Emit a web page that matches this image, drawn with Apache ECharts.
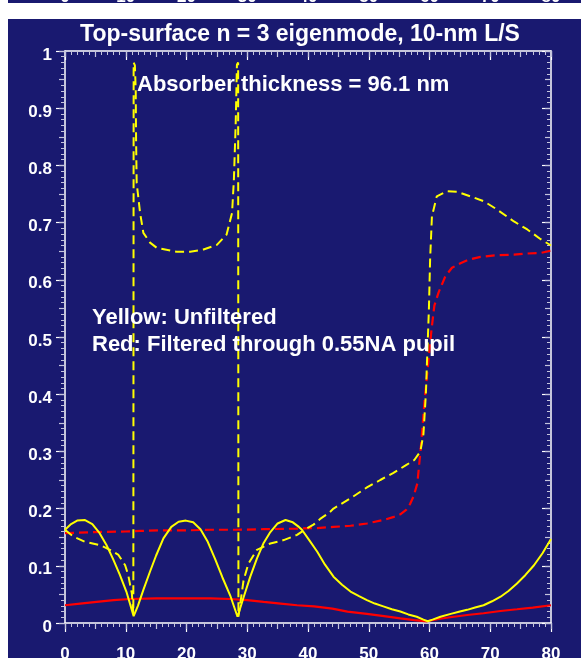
<!DOCTYPE html>
<html>
<head>
<meta charset="utf-8">
<script src="https://cdn.jsdelivr.net/npm/echarts@6/dist/echarts.min.js"></script>
<style>
  html, body { margin: 0; padding: 0; background: #ffffff; }
  #wrap { position: relative; width: 581px; height: 658px; overflow: hidden; }
  .panel { position: absolute; background: #191970; }
  #panelTop { left: 8px; top: 0; width: 573px; height: 3px; }
  #panelMain { left: 8px; top: 19px; width: 573px; height: 639px; }
  #chart { position: absolute; left: 0; top: 0; width: 581px; height: 658px; }
</style>
</head>
<body>
<div id="wrap">
  <div class="panel" id="panelTop"></div>
  <div class="panel" id="panelMain"></div>
  <div id="chart"></div>
</div>
<script>
// Axis ticks and labels
const xTicks = [0, 10, 20, 30, 40, 50, 60, 70, 80];
const yTickLabels = ['0', '0.1', '0.2', '0.3', '0.4', '0.5', '0.6', '0.7', '0.8', '0.9', '1'];

// Text
const titleText = 'Top-surface n = 3 eigenmode, 10-nm L/S';
const noteAbsorber = 'Absorber thickness = 96.1 nm';
const noteYellow = 'Yellow: Unfiltered';
const noteRed = 'Red: Filtered through 0.55NA pupil';

// Unfiltered, solid yellow
const unfilteredSolid = [
  [0, 0.163], [1, 0.173], [2, 0.179], [3.3, 0.180], [4.5, 0.173], [5.7, 0.157],
  [6.8, 0.137], [7.9, 0.112], [9.0, 0.085], [10.1, 0.055], [11.3, 0.012],
  [12.0, 0.030], [12.9, 0.058], [14.0, 0.090], [15.0, 0.118], [16.2, 0.148],
  [17.5, 0.168], [18.7, 0.177], [19.9, 0.179], [21.1, 0.176], [22.3, 0.164],
  [23.5, 0.142], [24.7, 0.112], [25.9, 0.080], [27.2, 0.048], [28.4, 0.011],
  [29.4, 0.045], [30.5, 0.081], [31.6, 0.113], [32.7, 0.140], [33.8, 0.159],
  [35.0, 0.174], [36.3, 0.180], [37.5, 0.176], [38.5, 0.168], [39.0, 0.163],
  [40.2, 0.145], [41.5, 0.125], [42.8, 0.102], [44.2, 0.081], [45.6, 0.067],
  [47.0, 0.055], [48.4, 0.047], [49.7, 0.040], [51.0, 0.034], [52.4, 0.029],
  [53.8, 0.024], [55.2, 0.020], [56.5, 0.015], [57.9, 0.011], [59.0, 0.006],
  [59.7, 0.003], [60.5, 0.006], [61.8, 0.011], [63.5, 0.016], [65.0, 0.020],
  [66.2, 0.023], [67.5, 0.027], [68.9, 0.031], [70.3, 0.038], [71.7, 0.046],
  [73.0, 0.056], [74.4, 0.069], [75.8, 0.084], [77.2, 0.101], [78.6, 0.122],
  [80, 0.147]
];

// Unfiltered, dashed yellow
const unfilteredDashed = [
  [0, 0.163], [1.4, 0.151], [3.3, 0.142], [5.8, 0.136], [7.4, 0.128],
  [8.8, 0.119], [9.9, 0.101], [10.4, 0.084], [11.0, 0.052], [11.25, 0.017],
  [11.3, 0.98], [11.5, 0.975], [11.64, 0.933], [11.7, 0.845], [11.8, 0.769],
  [12.36, 0.717], [12.9, 0.682], [14.0, 0.665], [15.1, 0.656], [18.4, 0.649],
  [20.6, 0.649], [22.8, 0.653], [25.0, 0.661], [26.6, 0.679], [27.5, 0.717],
  [27.8, 0.775], [28.1, 0.874], [28.3, 0.976], [28.5, 0.98], [28.55, 0.011],
  [29.4, 0.075], [30.2, 0.104], [31.6, 0.128], [33.8, 0.139], [36.0, 0.145],
  [38.2, 0.154], [39.3, 0.162], [40.9, 0.172], [42.0, 0.182], [43.4, 0.192],
  [44.2, 0.200], [47.0, 0.218], [49.7, 0.237], [51.9, 0.250], [54.0, 0.262],
  [56.0, 0.275], [57.5, 0.285], [58.5, 0.300], [59.0, 0.330], [59.4, 0.400],
  [59.6, 0.460], [59.9, 0.548], [60.1, 0.635], [60.4, 0.711], [61.2, 0.746],
  [62.9, 0.755], [64.5, 0.754], [66.7, 0.746], [69.0, 0.737], [71.1, 0.723],
  [73.9, 0.702], [76.1, 0.688], [78.3, 0.671], [80, 0.660]
];

// Filtered, solid red
const filteredSolid = [
  [0, 0.031], [2.5, 0.034], [5.2, 0.037], [8.0, 0.040], [10.7, 0.042],
  [15, 0.043], [20, 0.043], [24, 0.043], [27.2, 0.042], [30, 0.040],
  [32.7, 0.037], [35.5, 0.034], [38.2, 0.031], [41.0, 0.029], [44.0, 0.025],
  [46.5, 0.020], [49.7, 0.016], [52.5, 0.012], [55.2, 0.008], [57.5, 0.005],
  [59.6, 0.003], [61.5, 0.007], [63.4, 0.010], [66.2, 0.014], [68.9, 0.017],
  [71.7, 0.021], [74.4, 0.024], [77.0, 0.027], [80, 0.031]
];

// Filtered, dashed red
const filteredDashed = [
  [0, 0.157], [5, 0.159], [10, 0.160], [12.4, 0.161], [16, 0.162], [20, 0.162],
  [24, 0.163], [28, 0.163], [32.7, 0.164], [38, 0.165], [41.5, 0.166],
  [44.2, 0.168], [47.0, 0.170], [49.7, 0.174], [52.4, 0.180], [54.0, 0.185],
  [55.2, 0.190], [56.2, 0.198], [56.8, 0.208], [57.4, 0.222], [58.0, 0.244],
  [58.6, 0.310], [59.2, 0.390], [59.8, 0.455], [60.3, 0.510], [60.8, 0.555],
  [61.5, 0.578], [62.6, 0.606], [63.7, 0.621], [65.1, 0.629], [66.4, 0.635],
  [68.4, 0.640], [71.1, 0.643], [73.9, 0.644], [76.1, 0.646], [78.3, 0.647],
  [80, 0.651]
];

const FONT = '"Liberation Sans", Arial, sans-serif';
const TICK_MINOR = '#c4c4dc';
const HIDDEN = 'rgba(0,0,0,0)';

const chart = echarts.init(document.getElementById('chart'), null, { renderer: 'canvas' });

// One side of the frame: a value axis with its own tick length and direction
function frameAxis(kind, position, opts) {
  const isX = kind === 'x';
  const label = {
    show: true, color: opts.labels ? '#ffffff' : HIDDEN,
    fontWeight: 'bold', fontSize: 17, fontFamily: FONT,
    margin: opts.margin != null ? opts.margin : (isX ? 23 : 13),
    formatter: isX ? (v => String(xTicks[Math.round(v / 10)]))
                   : (v => yTickLabels[Math.round(v * 10)] || '')
  };
  if (!isX) {
    // value labels sit a little below their ticks
    label.verticalAlign = 'top';
    label.lineHeight = 8;
  }
  return {
    type: 'value', position: position,
    min: 0, max: isX ? 80 : 1, interval: opts.interval,
    offset: opts.offset || 0,
    axisLine: { show: !!opts.line, onZero: false, lineStyle: { color: '#ffffff', width: 1.5 } },
    axisTick: { show: opts.tickLen > 0, inside: !!opts.inside, length: opts.tickLen,
      lineStyle: { color: opts.tickColor || '#ffffff', width: 1.2 } },
    minorTick: { show: !!opts.minor, splitNumber: 10, length: 4,
      lineStyle: { color: TICK_MINOR, width: 1 } },
    axisLabel: label,
    splitLine: { show: false }
  };
}

function note(id, text, x, y, size, align) {
  return {
    type: 'text', id: id, z: 100, silent: true,
    style: { text: text, x: x, y: y, fill: '#ffffff', font: 'bold ' + size + 'px ' + FONT,
      textAlign: align, align: align, textVerticalAlign: 'middle', verticalAlign: 'middle' }
  };
}

const option = {
  backgroundColor: 'transparent',
  animation: false,
  grid: { left: 65, right: 30, top: 51, bottom: 35, outerBoundsMode: 'none', containLabel: false },
  xAxis: [
    frameAxis('x', 'bottom', { interval: 10, line: true, tickLen: 9, minor: true, labels: true }),
    frameAxis('x', 'bottom', { interval: 5, tickLen: 6, tickColor: TICK_MINOR }),
    frameAxis('x', 'top', { interval: 10, line: true, inside: true, tickLen: 9, minor: true }),
    frameAxis('x', 'top', { interval: 5, inside: true, tickLen: 6, tickColor: TICK_MINOR }),
    // tick labels of the panel above, cut by the page edge
    frameAxis('x', 'top', { interval: 10, tickLen: 0, labels: true, offset: 40, margin: 5 })
  ],
  yAxis: [
    frameAxis('y', 'left', { interval: 0.1, line: true, tickLen: 9, minor: true, labels: true }),
    frameAxis('y', 'left', { interval: 0.05, tickLen: 6, tickColor: TICK_MINOR }),
    frameAxis('y', 'right', { interval: 0.1, line: true, inside: true, tickLen: 9, minor: true }),
    frameAxis('y', 'right', { interval: 0.05, inside: true, tickLen: 6, tickColor: TICK_MINOR })
  ],
  graphic: [
    note('title', titleText, 300, 35, 23, 'center'),
    note('absorber', noteAbsorber, 137, 85, 22, 'left'),
    note('yellowNote', noteYellow, 92, 318, 22, 'left'),
    note('redNote', noteRed, 92, 345, 22, 'left')
  ],
  series: [
    { type: 'line', name: 'filtered-solid', data: filteredSolid, showSymbol: false, symbol: 'none',
      lineStyle: { color: '#ff0000', width: 2.2 }, z: 3 },
    { type: 'line', name: 'filtered-dashed', data: filteredDashed, showSymbol: false, symbol: 'none',
      lineStyle: { color: '#ff0000', width: 2.2, type: [9, 5] }, z: 3 },
    { type: 'line', name: 'unfiltered-solid', data: unfilteredSolid, showSymbol: false, symbol: 'none',
      lineStyle: { color: '#ffff00', width: 2 }, z: 4 },
    { type: 'line', name: 'unfiltered-dashed', data: unfilteredDashed, showSymbol: false, symbol: 'none',
      lineStyle: { color: '#ffff00', width: 2, type: [9, 5] }, z: 4 }
  ]
};

chart.setOption(option);
</script>
</body>
</html>
